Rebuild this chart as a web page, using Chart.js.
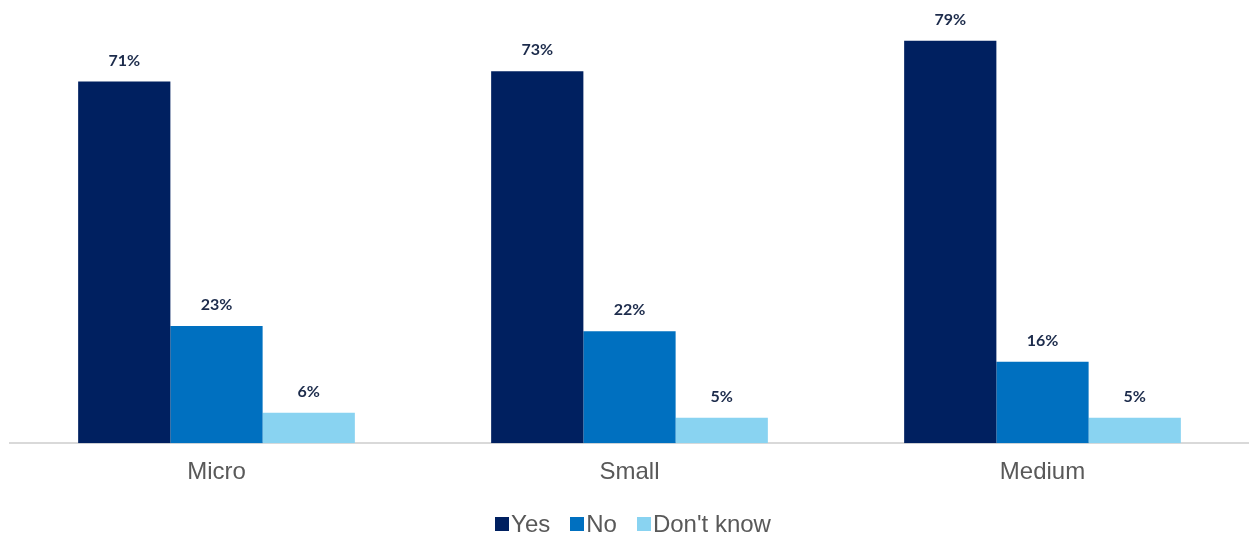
<!DOCTYPE html>
<html>
<head>
<meta charset="utf-8">
<script src="https://cdn.jsdelivr.net/npm/chart.js@4/dist/chart.umd.min.js"></script>
<style>
html,body{margin:0;padding:0;background:#fff;}
#wrap{width:1249px;height:536px;position:relative;}
</style>
</head>
<body>
<div id="wrap"><canvas id="c" width="1249" height="536"></canvas></div>
<script>
const categories = ["Micro", "Small", "Medium"];
const seriesNames = ["Yes", "No", "Don't know"];
const yesValues = [71, 73, 79];
const noValues = [23, 22, 16];
const dontKnowValues = [6, 5, 5];
const seriesColors = ["#002060", "#0070C0", "#89D3F1"];

const labelPlugin = {
  id: 'valueLabels',
  afterDatasetsDraw(chart) {
    const ctx = chart.ctx;
    ctx.save();
    ctx.font = "bold 16px Lato, 'Liberation Sans', sans-serif";
    ctx.fillStyle = "#1C2B4B";
    ctx.textAlign = "center";
    ctx.textBaseline = "middle";
    chart.data.datasets.forEach((ds, i) => {
      const meta = chart.getDatasetMeta(i);
      meta.data.forEach((bar, j) => {
        ctx.fillText(ds.data[j] + "%", bar.x, bar.y - 21);
      });
    });
    ctx.restore();
  }
};

const legendPlugin = {
  id: 'customLegend',
  afterDraw(chart) {
    const ctx = chart.ctx;
    ctx.save();
    ctx.font = "24px 'Liberation Sans', Arial, sans-serif";
    const box = 14, gap = 2, itemGap = 20;
    const widths = seriesNames.map(n => box + gap + ctx.measureText(n).width);
    const total = widths.reduce((a, b) => a + b, 0) + itemGap * (widths.length - 1);
    let x = 633 - total / 2;
    const cy = 524;
    ctx.textBaseline = "middle";
    ctx.textAlign = "left";
    seriesNames.forEach((n, i) => {
      ctx.fillStyle = seriesColors[i];
      ctx.fillRect(Math.round(x), cy - box / 2, box, box);
      ctx.fillStyle = "#595959";
      ctx.fillText(n, x + box + gap, cy + 1);
      x += widths[i] + itemGap;
    });
    ctx.restore();
  }
};

new Chart(document.getElementById('c'), {
  type: 'bar',
  data: {
    labels: categories,
    datasets: [
      { label: seriesNames[0], data: yesValues, backgroundColor: seriesColors[0] },
      { label: seriesNames[1], data: noValues, backgroundColor: seriesColors[1] },
      { label: seriesNames[2], data: dontKnowValues, backgroundColor: seriesColors[2] }
    ]
  },
  options: {
    responsive: false,
    animation: false,
    devicePixelRatio: 1,
    layout: { padding: { left: 10, right: 0, top: 0, bottom: 34 } },
    datasets: { bar: { categoryPercentage: 0.67, barPercentage: 1.0 } },
    plugins: { legend: { display: false }, tooltip: { enabled: false } },
    scales: {
      x: {
        grid: { display: false, drawTicks: false },
        border: { color: "#D9D9D9", width: 2 },
        ticks: { color: "#595959", font: { family: "'Liberation Sans', Arial, sans-serif", size: 24 }, padding: 15 }
      },
      y: {
        display: false,
        min: 0,
        max: 87
      }
    }
  },
  plugins: [labelPlugin, legendPlugin]
});
</script>
</body>
</html>
